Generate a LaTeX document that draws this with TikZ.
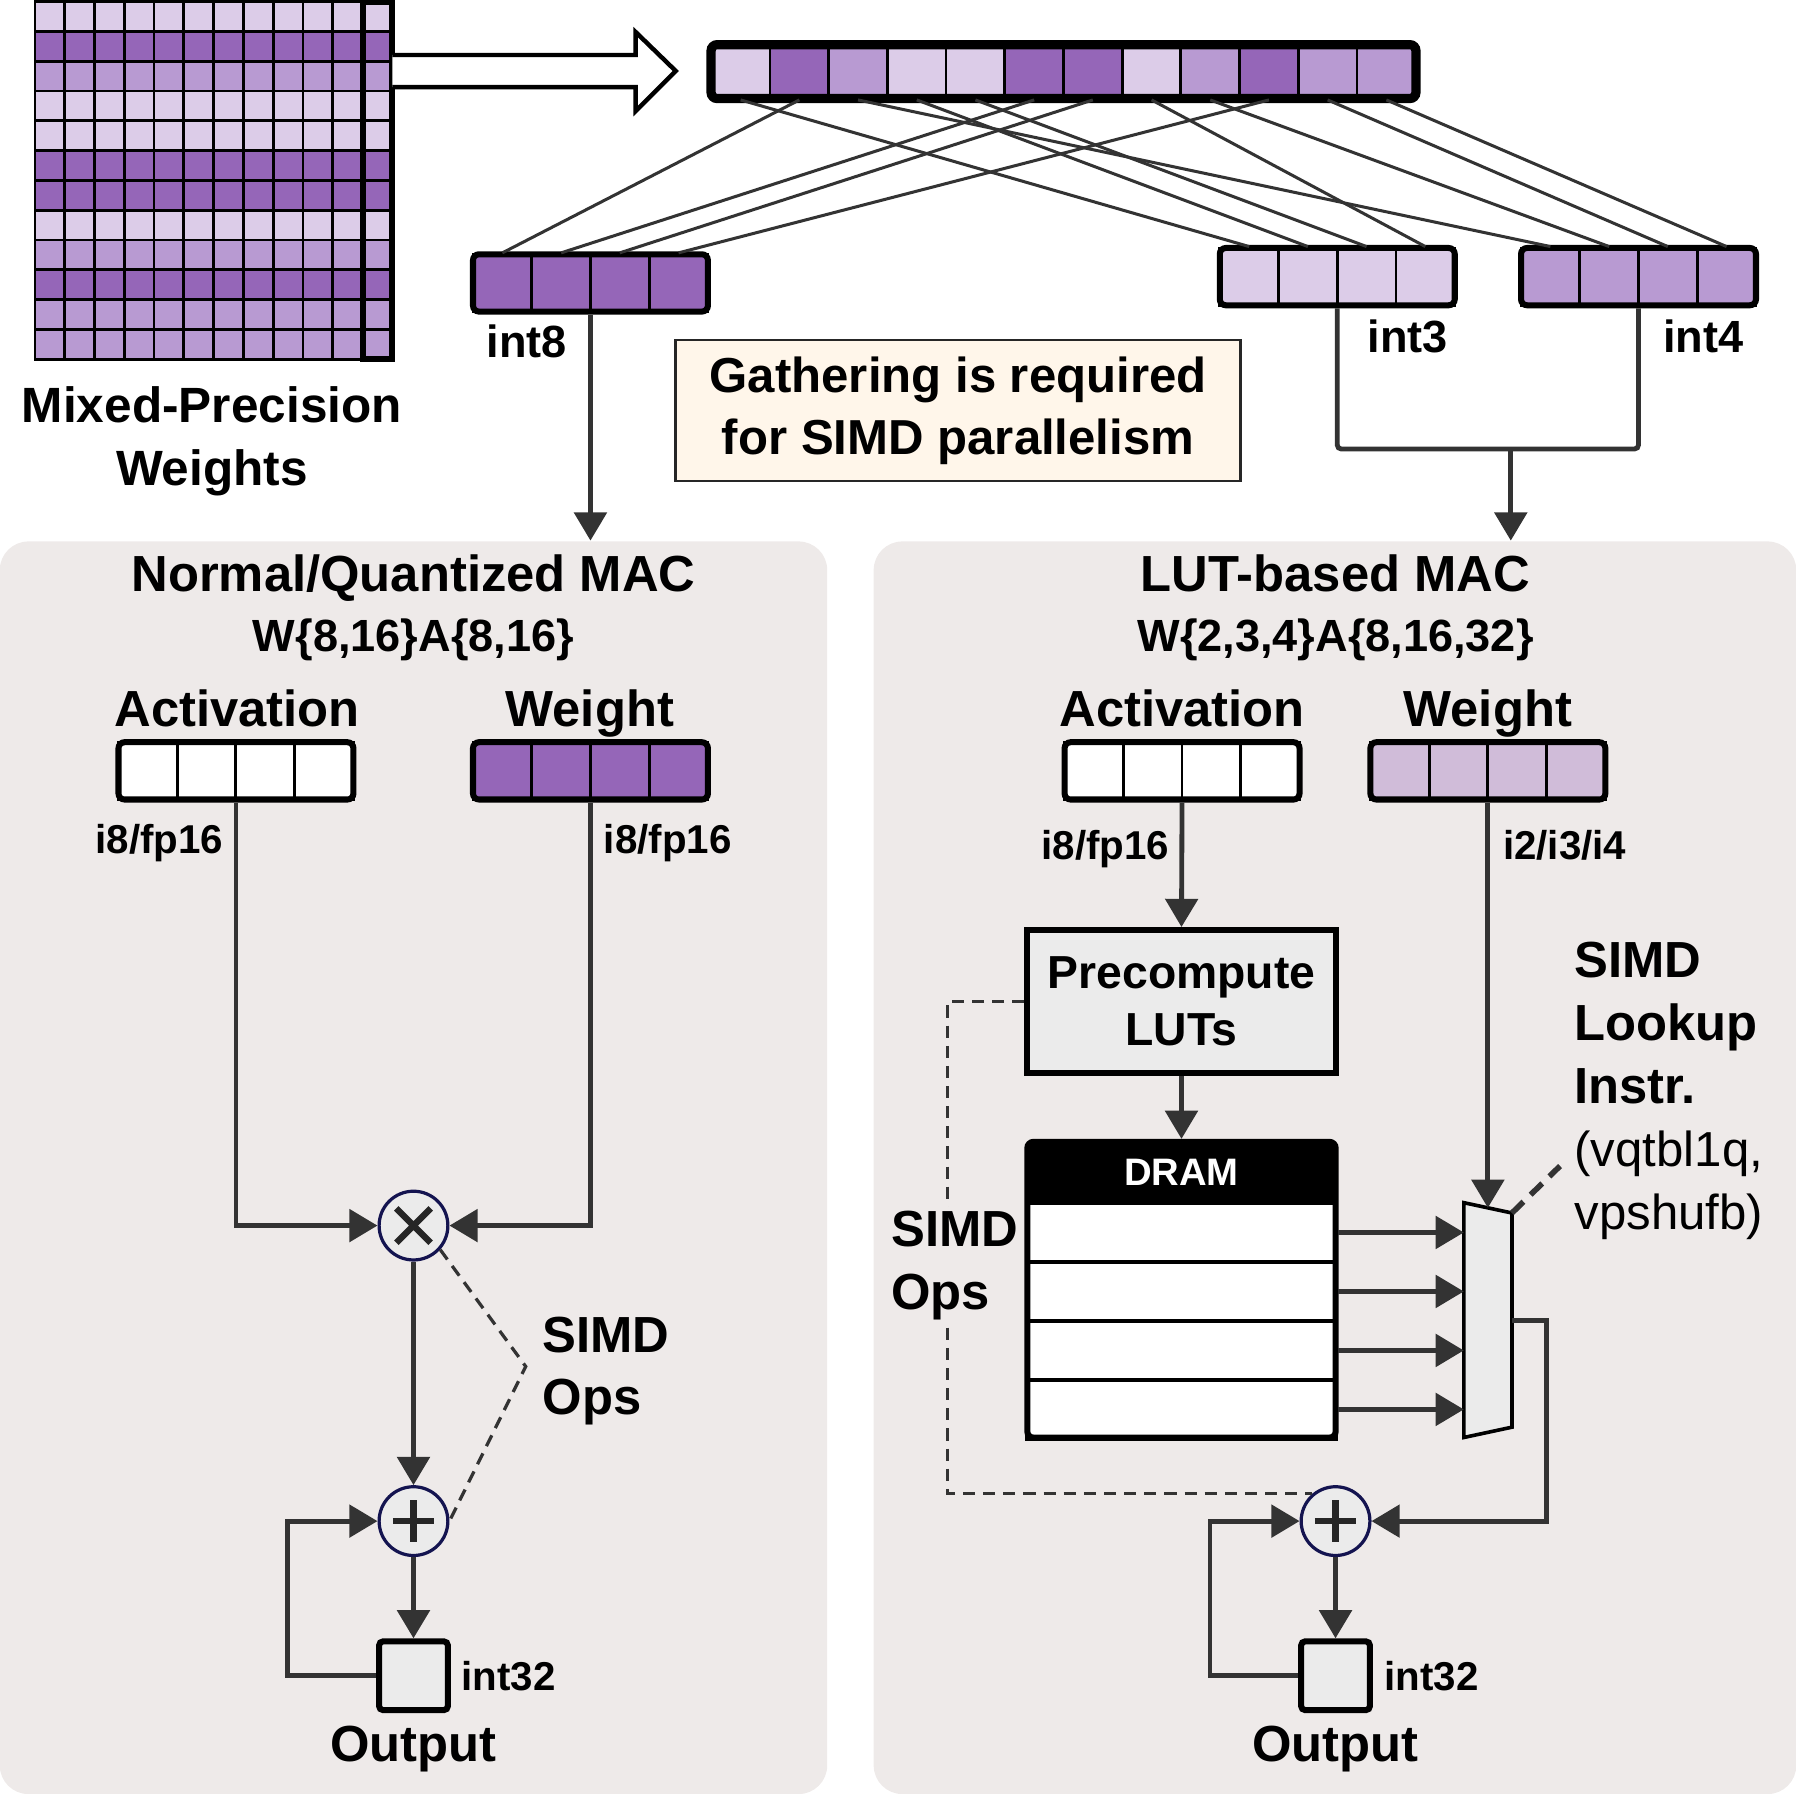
\documentclass[tikz,border=0pt]{standalone}
\usepackage{fontspec}
\setmainfont{Liberation Sans}
\usetikzlibrary{arrows.meta,positioning}

\definecolor{lightP}{RGB}{220,204,232}
\definecolor{midP}{RGB}{184,154,210}
\definecolor{darkP}{RGB}{149,102,184}
\definecolor{paleP}{RGB}{208,188,217}
\definecolor{panel}{RGB}{238,234,233}
\definecolor{boxgray}{RGB}{235,235,235}
\definecolor{cream}{RGB}{255,246,234}
\definecolor{wire}{RGB}{51,51,51}
\definecolor{navy}{RGB}{20,20,80}

\begin{document}
\begin{tikzpicture}[x=0.01cm,y=-0.01cm,
flow/.style={->,>={Triangle[length=7pt,width=8pt]},draw=wire,line width=1.2pt},
wireline/.style={draw=wire,line width=1.2pt},
gather/.style={draw=wire,line width=0.75pt},
simd/.style={draw=wire,line width=0.8pt,dash pattern=on 3pt off 2pt},
cell/.style={draw=black,line width=0.7pt,inner sep=0pt,minimum width=0.5125cm,minimum height=0.5cm},
regframe/.style={draw=black,line width=1.5pt,rounded corners=1.5pt,inner sep=0pt,minimum width=2.05cm,minimum height=0.5cm},
op/.style={circle,draw=navy,line width=0.8pt,fill=boxgray,minimum size=0.6cm,inner sep=0pt},
mulop/.style={op,path picture={\draw[line width=1.6pt,black!85]
  ([shift={(-0.15cm,-0.15cm)}]path picture bounding box.center) -- ([shift={(0.15cm,0.15cm)}]path picture bounding box.center)
  ([shift={(-0.15cm,0.15cm)}]path picture bounding box.center) -- ([shift={(0.15cm,-0.15cm)}]path picture bounding box.center);}},
addop/.style={op,path picture={\draw[line width=1.6pt,black!85]
  ([shift={(-0.18cm,0cm)}]path picture bounding box.center) -- ([shift={(0.18cm,0cm)}]path picture bounding box.center)
  ([shift={(0cm,0.18cm)}]path picture bounding box.center) -- ([shift={(0cm,-0.18cm)}]path picture bounding box.center);}},
outbox/.style={draw=black,line width=1.5pt,rounded corners=1pt,fill=boxgray,minimum size=0.6cm,inner sep=0pt},
headline/.style={font=\fontsize{12.6}{15.6}\selectfont\bfseries,align=center,inner sep=0pt},
subhead/.style={font=\fontsize{11.2}{13}\selectfont\bfseries,inner sep=0pt},
note/.style={font=\fontsize{10}{12}\selectfont\bfseries,inner sep=0pt}]

\useasboundingbox (0,0) rectangle (1568,1566);

\node[fill=panel,rounded corners=0.25cm,minimum width=7.22cm,minimum height=10.93cm,inner sep=0pt] (LeftPanel) at (361,1019.5) {};
\node[fill=panel,rounded corners=0.25cm,minimum width=8.05cm,minimum height=10.93cm,inner sep=0pt] (RightPanel) at (1165.5,1019.5) {};

\foreach \c [count=\i] in {lightP,darkP,midP,lightP,lightP,darkP,darkP,lightP,midP,darkP,midP,midP}
  \foreach \j in {1,...,12}
    \draw[fill=\c,line width=0.7pt] ({30.5+26*(\j-1)},{1.5+26*(\i-1)}) rectangle ++(26,26);
\draw[line width=1.5pt] (316.5,1.5) rectangle (342.5,313.5);
\node[headline,font=\fontsize{12.3}{15.6}\selectfont\bfseries] (Mixed) at (185,385) {Mixed-Precision\\Weights};

\draw[line width=1.1pt,fill=white,line join=miter] (342.5,48) -- (555,48) -- (555,28) -- (590,62) -- (555,97) -- (555,76) -- (342.5,76);

\node[cell,fill=lightP,minimum height=0.47cm] (Row_1) at (646.6,62.5) {};
\node[cell,fill=darkP,minimum height=0.47cm] (Row_2) at (697.9,62.5) {};
\node[cell,fill=midP,minimum height=0.47cm] (Row_3) at (749.1,62.5) {};
\node[cell,fill=lightP,minimum height=0.47cm] (Row_4) at (800.4,62.5) {};
\node[cell,fill=lightP,minimum height=0.47cm] (Row_5) at (851.6,62.5) {};
\node[cell,fill=darkP,minimum height=0.47cm] (Row_6) at (902.9,62.5) {};
\node[cell,fill=darkP,minimum height=0.47cm] (Row_7) at (954.1,62.5) {};
\node[cell,fill=lightP,minimum height=0.47cm] (Row_8) at (1005.4,62.5) {};
\node[cell,fill=midP,minimum height=0.47cm] (Row_9) at (1056.6,62.5) {};
\node[cell,fill=darkP,minimum height=0.47cm] (Row_10) at (1107.9,62.5) {};
\node[cell,fill=midP,minimum height=0.47cm] (Row_11) at (1159.1,62.5) {};
\node[cell,fill=midP,minimum height=0.47cm] (Row_12) at (1210.4,62.5) {};
\node[regframe,line width=2.3pt,minimum width=6.15cm,minimum height=0.47cm] (Row) at (928.5,62.5) {};

\node[cell,fill=darkP] (Int8_1) at (438.6,247) {};
\node[cell,fill=darkP] (Int8_2) at (489.9,247) {};
\node[cell,fill=darkP] (Int8_3) at (541.1,247) {};
\node[cell,fill=darkP] (Int8_4) at (592.4,247) {};
\node[regframe] (Int8) at (515.5,247) {};

\node[cell,fill=lightP] (Int3_1) at (1090.6,241.5) {};
\node[cell,fill=lightP] (Int3_2) at (1141.9,241.5) {};
\node[cell,fill=lightP] (Int3_3) at (1193.1,241.5) {};
\node[cell,fill=lightP] (Int3_4) at (1244.4,241.5) {};
\node[regframe] (Int3) at (1167.5,241.5) {};

\node[cell,fill=midP] (Int4_1) at (1353.6,241.5) {};
\node[cell,fill=midP] (Int4_2) at (1404.9,241.5) {};
\node[cell,fill=midP] (Int4_3) at (1456.1,241.5) {};
\node[cell,fill=midP] (Int4_4) at (1507.4,241.5) {};
\node[regframe] (Int4) at (1430.5,241.5) {};

\draw[gather] (Row_2.south) -- (Int8_1.north);
\draw[gather] (Row_6.south) -- (Int8_2.north);
\draw[gather] (Row_7.south) -- (Int8_3.north);
\draw[gather] (Row_10.south) -- (Int8_4.north);
\draw[gather] (Row_1.south) -- (Int3_1.north);
\draw[gather] (Row_4.south) -- (Int3_2.north);
\draw[gather] (Row_5.south) -- (Int3_3.north);
\draw[gather] (Row_8.south) -- (Int3_4.north);
\draw[gather] (Row_3.south) -- (Int4_1.north);
\draw[gather] (Row_9.south) -- (Int4_2.north);
\draw[gather] (Row_11.south) -- (Int4_3.north);
\draw[gather] (Row_12.south) -- (Int4_4.north);

\node[subhead,anchor=base] (Lab_int8) at (460,312) {int8};
\node[subhead,anchor=base] (Lab_int3) at (1229,308) {int3};
\node[subhead,anchor=base] (Lab_int4) at (1487,308) {int4};

\node[headline,font=\fontsize{12.2}{15.4}\selectfont\bfseries,draw=black!85,line width=0.6pt,fill=cream,minimum width=4.93cm,minimum height=1.23cm] (Gather) at (836.5,358.5) {Gathering is required\\for SIMD parallelism};

\draw[flow] (Int8.south) -- (Int8.south |- LeftPanel.north);
\coordinate (Join) at (1319,392);
\draw[wireline,rounded corners=1pt] (Int3.south) |- (Join) -| (Int4.south);
\draw[flow] (Join) -- (Join |- RightPanel.north);

\node[headline,anchor=base] (L_title) at (361,516) {Normal/Quantized MAC};
\node[subhead,anchor=base] (L_prec) at (361,569) {W\{8,16\}A\{8,16\}};
\node[headline,anchor=base] (L_act_lab) at (207,634) {Activation};
\node[headline,anchor=base] (L_wgt_lab) at (515,634) {Weight};

\node[cell,fill=white] (L_act_1) at (129.1,673) {};
\node[cell,fill=white] (L_act_2) at (180.4,673) {};
\node[cell,fill=white] (L_act_3) at (231.6,673) {};
\node[cell,fill=white] (L_act_4) at (282.9,673) {};
\node[regframe] (L_act) at (206,673) {};

\node[cell,fill=darkP] (L_wgt_1) at (438.6,673) {};
\node[cell,fill=darkP] (L_wgt_2) at (489.9,673) {};
\node[cell,fill=darkP] (L_wgt_3) at (541.1,673) {};
\node[cell,fill=darkP] (L_wgt_4) at (592.4,673) {};
\node[regframe] (L_wgt) at (515.5,673) {};

\node[note,anchor=base] (L_act_type) at (139,745) {i8/fp16};
\node[note,anchor=base] (L_wgt_type) at (583,745) {i8/fp16};

\node[mulop] (L_mul) at (361,1070) {};
\node[addop] (L_add) at (361,1328) {};
\node[outbox] (L_out) at (361,1463) {};
\coordinate (L_bend) at (459,1193);

\draw[flow] (L_act.south) |- (L_mul.west);
\draw[flow] (L_wgt.south) |- (L_mul.east);
\draw[flow] (L_mul) -- (L_add);
\draw[flow] (L_add) -- (L_out);
\draw[flow] (L_out.west) -- ++(-77,0) |- (L_add.west);
\draw[simd] (L_mul.-42) -- (L_bend) -- (L_add.east);

\node[headline,align=left,anchor=west] (L_simd) at (473,1197) {SIMD\\Ops};
\node[note,anchor=base] (L_out_type) at (444,1476) {int32};
\node[headline,anchor=base] (L_out_lab) at (361,1538) {Output};

\node[headline,anchor=base] (R_title) at (1166,516) {LUT-based MAC};
\node[subhead,anchor=base] (R_prec) at (1166,569) {W\{2,3,4\}A\{8,16,32\}};
\node[headline,anchor=base] (R_act_lab) at (1032,634) {Activation};
\node[headline,anchor=base] (R_wgt_lab) at (1299,634) {Weight};

\node[cell,fill=white] (R_act_1) at (955.1,673) {};
\node[cell,fill=white] (R_act_2) at (1006.4,673) {};
\node[cell,fill=white] (R_act_3) at (1057.6,673) {};
\node[cell,fill=white] (R_act_4) at (1108.9,673) {};
\node[regframe] (R_act) at (1032,673) {};

\node[cell,fill=paleP] (R_wgt_1) at (1222.1,673) {};
\node[cell,fill=paleP] (R_wgt_2) at (1273.4,673) {};
\node[cell,fill=paleP] (R_wgt_3) at (1324.6,673) {};
\node[cell,fill=paleP] (R_wgt_4) at (1375.9,673) {};
\node[regframe] (R_wgt) at (1299,673) {};

\node[note,anchor=base] (R_act_type) at (965,750) {i8/fp16};
\node[note,anchor=base] (R_wgt_type) at (1366,750) {i2/i3/i4};

\node[draw=black,line width=1.5pt,fill=boxgray,minimum width=2.69cm,minimum height=1.25cm,inner sep=0pt,
  font=\fontsize{11.5}{14.2}\selectfont\bfseries,align=center] (R_pre) at (1031.5,874.5) {Precompute\\LUTs};

\node[fill=black,text=white,minimum width=2.69cm,minimum height=0.53cm,inner sep=0pt,
  font=\fontsize{9.5}{11}\selectfont\bfseries] (R_dram) at (1031.5,1023.5) {DRAM};
\node[draw=black,line width=1.2pt,fill=white,minimum width=2.69cm,minimum height=0.515cm] (R_lut_1) at (1031.5,1076) {};
\node[draw=black,line width=1.2pt,fill=white,minimum width=2.69cm,minimum height=0.515cm] (R_lut_2) at (1031.5,1127.5) {};
\node[draw=black,line width=1.2pt,fill=white,minimum width=2.69cm,minimum height=0.515cm] (R_lut_3) at (1031.5,1179) {};
\node[draw=black,line width=1.2pt,fill=white,minimum width=2.69cm,minimum height=0.515cm] (R_lut_4) at (1031.5,1230.5) {};
\node[regframe,minimum width=2.69cm,minimum height=2.58cm] (R_mem) at (1031.5,1126) {};

\draw[line width=0.9pt,fill=boxgray] (1278,1050) -- (1320,1059) -- (1320,1246) -- (1278,1255) -- cycle;
\coordinate (R_mux_in) at (1278,1152.5);
\coordinate (R_mux_top) at (1299,1054.5);
\coordinate (R_mux_out) at (1320,1152.5);
\coordinate (R_mux_tip) at (1320,1059);

\node[addop] (R_add) at (1166,1328) {};
\node[outbox] (R_out) at (1166,1463) {};

\draw[flow] (R_act.south) -- (R_pre.north);
\draw[flow] (R_pre.south) -- (R_mem.north);
\draw[flow] (R_wgt.south) -- (R_mux_top);
\draw[flow] (R_lut_1.east) -- (R_lut_1.east -| R_mux_in);
\draw[flow] (R_lut_2.east) -- (R_lut_2.east -| R_mux_in);
\draw[flow] (R_lut_3.east) -- (R_lut_3.east -| R_mux_in);
\draw[flow] (R_lut_4.east) -- (R_lut_4.east -| R_mux_in);
\draw[flow] (R_mux_out) -- ++(30,0) |- (R_add.east);
\draw[flow] (R_add) -- (R_out);
\draw[flow] (R_out.west) -- ++(-77,0) |- (R_add.west);
\draw[simd] (R_pre.west) -- ++(-67,0) |- (R_add.130);
\draw[draw=wire,line width=1.4pt,dash pattern=on 4pt off 2.5pt] (R_mux_tip) -- ++(42,-41);

\node[headline,align=left,anchor=west,fill=panel,inner sep=1pt] (R_simd) at (774,1105) {SIMD\\Ops};
\node[headline,align=left,anchor=north west] (R_instr) at (1374,822) {SIMD\\Lookup\\Instr.\\{\mdseries\fontsize{12.2}{15.6}\selectfont(vqtbl1q,}\\{\mdseries\fontsize{12.2}{15.6}\selectfont vpshufb)}};
\node[note,anchor=base] (R_out_type) at (1250,1476) {int32};
\node[headline,anchor=base] (R_out_lab) at (1166,1538) {Output};

\end{tikzpicture}
\end{document}
